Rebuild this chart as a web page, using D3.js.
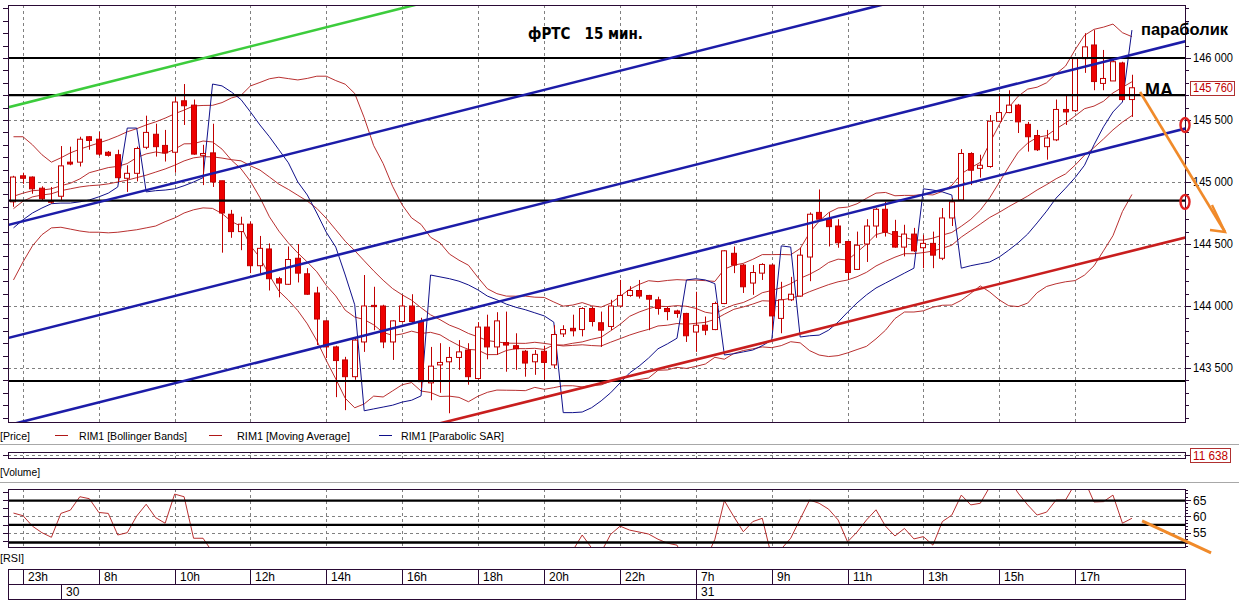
<!DOCTYPE html>
<html><head><meta charset="utf-8">
<script src="https://cdn.jsdelivr.net/npm/d3@7"></script>
<style>
body{margin:0;background:#fff;}
svg{display:block;font-family:"Liberation Sans",Arial,sans-serif;}
</style></head><body>
<svg id="c" width="1239" height="602"></svg>
<script>
// ---- data (RIM1, 15 min) ----
const openP  = [144840,145050,145040,144950,144845,144885,145160,145160,145365,145345,145240,145220,145030,145070,145280,145385,145295,145240,145655,145620,145215,145235,145010,144740,144600,144660,144325,144460,144220,144175,144385,144260,144105,143880,143670,143565,143430,143710,144005,144000,143710,143875,144000,143875,143380,143525,143550,143585,143645,143415,143830,143670,143705,143680,143635,143550,143635,143525,143775,143820,143810,143980,143865,143835,144000,144085,144125,144085,144050,143980,143960,143940,143790,143845,143810,144020,144425,144330,144185,144265,144330,143900,144050,144080,144395,144755,144700,144645,144520,144295,144500,144645,144780,144600,144475,144580,144470,144505,144385,144710,144855,145230,145110,145125,145490,145560,145620,145465,145375,145285,145340,145585,145575,145995,146105,145795,145815,145960,145665];
const highP  = [145050,145075,145045,144965,144960,145290,145285,145365,145370,145405,145250,145260,145135,145285,145535,145470,145420,145685,145790,145665,145300,145470,145010,144775,144720,144680,144565,144505,144235,144480,144500,144305,144155,143885,143680,143590,143740,144250,144155,144010,143885,144090,144095,143905,143670,143700,143670,143725,143700,143870,143930,143950,143955,143780,143645,143645,143680,143845,143845,143930,143990,143995,143955,144050,144210,144160,144210,144090,144075,143995,143970,143945,144115,143915,144035,144450,144480,144340,144330,144345,144340,144195,144235,144470,144755,144940,144755,144700,144525,144600,144700,144790,144840,144695,144655,144630,144575,144600,144790,144870,145265,145240,145220,145540,145715,145740,145630,145485,145420,145420,145665,145700,146000,146200,146225,146065,145985,145970,145865];
const lowP   = [144800,144985,144905,144855,144825,144855,145135,145125,145260,145210,145205,145000,144920,145005,145265,145205,145165,145075,145460,145220,144975,144960,144430,144550,144450,144265,144260,144125,144070,144170,144190,144090,143685,143580,143265,143160,143405,143630,143805,143660,143565,143865,143855,143340,143240,143300,143135,143485,143365,143410,143570,143605,143470,143485,143430,143445,143405,143500,143750,143755,143755,143835,143670,143805,143990,144075,144060,143805,143930,143885,143905,143710,143630,143765,143805,144015,144265,144105,144090,144210,143805,143780,144040,144075,144200,144695,144480,144470,144210,144290,144355,144550,144560,144470,144400,144435,144305,144305,144370,144645,144850,144975,145035,145115,145485,145555,145395,145245,145250,145180,145330,145460,145565,145880,145740,145740,145815,145655,145525];
const closeP = [145040,145030,144945,144865,144840,145130,145145,145345,145335,145225,145215,145035,145070,145270,145400,145285,145235,145645,145615,145225,145230,145000,144750,144600,144660,144325,144465,144220,144185,144375,144265,144095,143895,143670,143560,143430,143725,144000,143995,143710,143880,144000,143875,143390,143515,143545,143585,143630,143430,143830,143670,143880,143685,143655,143540,143610,143545,143770,143810,143800,143980,143875,143805,144000,144085,144125,144080,144055,143980,143955,143940,143760,143845,143805,144020,144445,144330,144155,144270,144335,143920,144050,144095,144410,144740,144700,144640,144510,144270,144490,144645,144780,144595,144475,144580,144445,144505,144410,144710,144840,145230,145095,145135,145490,145560,145620,145485,145365,145260,145355,145585,145565,145995,146090,145810,145835,145970,145665,145760];
const sarP   = [144630,144695,144750,144790,144825,144830,144830,144840,144855,144880,144910,144960,145435,145435,144920,144930,144935,144945,144970,145000,145035,145790,145775,145725,145665,145565,145460,145365,145260,145155,145000,144895,144750,144595,144475,144250,144010,143155,143170,143185,143200,143225,143240,143275,144250,144235,144220,144200,144170,144130,144080,144050,144015,143990,143970,143945,143920,143870,143140,143140,143145,143180,143235,143300,143380,143460,143515,143580,143655,143695,143740,144210,144220,144210,144180,143605,143615,143630,143645,143680,143725,144485,144475,143750,143760,143765,143805,143870,143950,144025,144090,144145,144185,144225,144265,144305,144945,144935,144920,144895,144305,144325,144340,144355,144395,144450,144510,144580,144670,144765,144870,144950,145035,145135,145300,145445,145565,145645,146225];
// band / MA values for the first candles (earlier history is off-screen)
const bbUpHead  = [145365,145365,145300,145220,145160,145195,145235,145265,145290,145315,145340,145370,145405,145430,145460,145485,145515,145550,145580];
const bbMidHead = [144785,144845,144880,144895,144905,144930,144945,144960,144970,144975,144985,145000,145015,145035,145055,145080,145105,145135,145170];
const bbLoHead  = [144210,144355,144485,144575,144630,144635,144620,144605,144595,144595,144590,144595,144605,144615,144630,144645,144680,144710,144750];
const maHead    = [144885,144910,144930,144935,144945,144970,144990,145025];
const rsiV   = [61.0,60.2,57.0,55.0,53.6,60.9,61.9,66.0,65.4,61.2,60.9,54.3,55.0,60.1,63.7,59.6,57.9,66.8,66.0,53.3,53.3,49.0,
  42,39,41,35,38,33,32,37,35,31,27,24,22,20,30,38,38,33,37,40,37,30,33,34,35,37,33,41,38,43,42,41,39,41,39,45,46,49.5,
  54.3,50.3,49.0,54.5,57.0,55.8,55.2,54.6,53.0,51.8,51.2,45.5,47.5,46.5,53.0,
  64.8,59.9,55.3,58.4,59.4,47.5,50.0,53.3,59.2,65.0,64.0,62.2,58.9,52.2,55.2,58.9,62.0,57.0,54.0,56.3,53.1,53.8,51.2,58.4,60.4,66.5,63.5,64.0,69.0,71.0,71.5,67.1,63.5,60.4,61.3,65.0,65.0,70.0,71.0,64.4,64.5,66.5,57.9,59.4];
const hourIdx = [1,9,17,25,33,41,49,56,64,72,80,88,96,104,112];
const hourLbl = ["23h","8h","10h","12h","14h","16h","18h","20h","22h","7h","9h","11h","13h","15h","17h"];
const dateIdx = [5,72];
const dateLbl = ["30","31"];
const priceTicks = [143500,144000,144500,145000,145500,146000];
const levelPrices = [146000,145700,144850,143395];
const rsiTicks = [55,60,65];
const rsiLevels = [64.8,57.4,52.0];
const lastPrice = 145760;
const lastVolume = "11 638";
// user trend lines: [index0, price0, index1, price1]
const greenLine = [-1,145593,50,146575];
const blueLines = [[-1,144645,130,147168],[-1,143734,125,146161],[-1,143030,125,145457]];
const redLine   = [44,143035,125,144578];
const arrowPrice = [118.86,145726,127.82,144597];
const arrowRsi   = [119.07,58.6,126.35,48.8];
const circlePrices = [145460,144840];

// ---- layout ----
const L=8, R=1185, PT=5, PB=422;
const x = d3.scaleLinear().domain([-0.58,123.6]).range([L,R]);
const y = d3.scaleLinear().domain([143000,146500]).range([430,-4]);
const RT=489, RB=547;
const yR = d3.scaleLinear().domain([50,70]).range([549.05,483.65]);
const idx = d3.range(openP.length);
const BORDER="#2a0a35", CANDLE="#c00000", BAND="#b01818";

const svg = d3.select("#c");
const defs = svg.append("defs");
defs.append("clipPath").attr("id","cp").append("rect").attr("x",L).attr("y",PT).attr("width",R-L).attr("height",PB-PT);
defs.append("clipPath").attr("id","cr").append("rect").attr("x",L).attr("y",RT).attr("width",R-L).attr("height",RB-RT);

// ---- price panel ----
const gP = svg.append("g").attr("clip-path","url(#cp)");
gP.selectAll("line.vg").data(hourIdx).join("line").attr("class","vg")
  .attr("x1",d=>Math.round(x(d))+0.5).attr("x2",d=>Math.round(x(d))+0.5).attr("y1",PT).attr("y2",PB)
  .attr("stroke","#808080").attr("stroke-dasharray","3,3");
gP.selectAll("line.hg").data(priceTicks).join("line").attr("class","hg")
  .attr("x1",L).attr("x2",R).attr("y1",d=>Math.round(y(d))+0.5).attr("y2",d=>Math.round(y(d))+0.5)
  .attr("stroke","#808080").attr("stroke-dasharray","3,3");

// bollinger (20,2) and moving average (9) from closes; head values
function win(i,n){return closeP.slice(i-n+1,i+1);}
const bbMid = idx.map(i=>i<19?bbMidHead[i]:d3.mean(win(i,20)));
const bbSd  = idx.map(i=>{if(i<19)return 0;const w=win(i,20),m=d3.mean(w);return Math.sqrt(d3.mean(w,v=>(v-m)*(v-m)));});
const bbUp = idx.map(i=>i<19?bbUpHead[i]:bbMid[i]+2*bbSd[i]);
const bbLo = idx.map(i=>i<19?bbLoHead[i]:bbMid[i]-2*bbSd[i]);
const ma = idx.map(i=>i<8?maHead[i]:d3.mean(win(i,9)));
const ln = arr => d3.line().x(i=>x(i)).y(i=>y(arr[i]))(idx);
[bbUp,bbMid,bbLo,ma].forEach(a=>gP.append("path").attr("d",ln(a)).attr("fill","none").attr("stroke",BAND).attr("stroke-width",0.9));
gP.append("path").attr("d",ln(sarP)).attr("fill","none").attr("stroke","#10108a").attr("stroke-width",1);

// candles
gP.selectAll("line.wick").data(idx).join("line").attr("class","wick")
  .attr("x1",i=>Math.round(x(i))+0.5).attr("x2",i=>Math.round(x(i))+0.5)
  .attr("y1",i=>y(highP[i])).attr("y2",i=>y(lowP[i])).attr("stroke",CANDLE);
gP.selectAll("rect.body").data(idx).join("rect").attr("class","body")
  .attr("x",i=>Math.round(x(i))-2.5).attr("width",5)
  .attr("y",i=>y(Math.max(openP[i],closeP[i])))
  .attr("height",i=>Math.max(1,Math.abs(y(openP[i])-y(closeP[i]))))
  .attr("fill",i=>closeP[i]>=openP[i]?"#fff":"#ee0000").attr("stroke",CANDLE);

// horizontal level lines
gP.selectAll("line.lv").data(levelPrices).join("line").attr("class","lv")
  .attr("x1",L).attr("x2",R).attr("y1",d=>y(d)).attr("y2",d=>y(d)).attr("stroke","#000").attr("stroke-width",2.2);
// trend lines
const tl = (g,a,c,w)=>g.append("line").attr("x1",x(a[0])).attr("y1",y(a[1])).attr("x2",x(a[2])).attr("y2",y(a[3])).attr("stroke",c).attr("stroke-width",w);
tl(gP,greenLine,"#3ccc3c",2.6);
blueLines.forEach(b=>tl(gP,b,"#1c1ca8",2.6));
tl(gP,redLine,"#c81e1e",2.6);

svg.append("rect").attr("x",L+0.5).attr("y",PT+0.5).attr("width",R-L).attr("height",PB-PT).attr("fill","none").attr("stroke",BORDER);

// price axis ticks & labels
const minor = d3.range(143100,146500,100);
svg.selectAll("line.rt").data(minor).join("line").attr("class","rt")
  .attr("x1",R).attr("x2",d=>d%500===0?R+6:R+4).attr("y1",d=>Math.round(y(d))+0.5).attr("y2",d=>Math.round(y(d))+0.5).attr("stroke",BORDER);
svg.selectAll("line.lt").data(minor).join("line").attr("class","lt")
  .attr("x1",3).attr("x2",L).attr("y1",d=>Math.round(y(d))+0.5).attr("y2",d=>Math.round(y(d))+0.5).attr("stroke",BORDER);
const fmt = d=>d3.format(",")(d).replace(",", " ");
svg.selectAll("text.pl").data(priceTicks).join("text").attr("class","pl")
  .attr("x",1193).attr("y",d=>y(d)+4).attr("font-size",12).attr("textLength",40).attr("lengthAdjust","spacingAndGlyphs").text(fmt);
svg.append("rect").attr("x",1190.5).attr("y",Math.round(y(lastPrice))-6.5).attr("width",44).attr("height",14).attr("fill","#fff").attr("stroke","#b03030");
svg.append("text").attr("x",1193).attr("y",y(lastPrice)+4).attr("font-size",12).attr("fill","#c00000").attr("textLength",40).attr("lengthAdjust","spacingAndGlyphs").text(fmt(lastPrice));

// ---- annotations ----
svg.append("text").attr("x",528).attr("y",39).attr("font-family","DejaVu Sans").attr("font-weight","bold").attr("font-size",15)
  .attr("textLength",115).attr("lengthAdjust","spacingAndGlyphs").style("white-space","pre").text("фРТС   15 мин.");
svg.append("text").attr("x",1141).attr("y",35).attr("font-weight","bold").attr("font-size",16).attr("textLength",87).attr("lengthAdjust","spacingAndGlyphs").text("параболик");
svg.append("text").attr("x",1145).attr("y",96).attr("font-weight","bold").attr("font-size",18).attr("textLength",28).attr("lengthAdjust","spacingAndGlyphs").text("MA");
svg.selectAll("ellipse.cm").data(circlePrices).join("ellipse").attr("class","cm")
  .attr("cx",R).attr("cy",d=>y(d)).attr("rx",4.5).attr("ry",7).attr("fill","none").attr("stroke","#e02020").attr("stroke-width",2.4);
const ax0=x(arrowPrice[0]), ay0=y(arrowPrice[1]), ax1=x(arrowPrice[2]), ay1=y(arrowPrice[3]);
svg.append("line").attr("x1",ax0).attr("y1",ay0).attr("x2",ax1).attr("y2",ay1).attr("stroke","#f08a2a").attr("stroke-width",2.6);
svg.append("path").attr("d",`M${ax1-13},${ay1-27}L${ax1},${ay1}L${ax1-15},${ay1-2}`).attr("fill","none").attr("stroke","#f08a2a").attr("stroke-width",2.4);

// ---- legend row ----
svg.append("text").attr("x",0).attr("y",440).attr("font-size",11).attr("textLength",30).attr("lengthAdjust","spacingAndGlyphs").text("[Price]");
const leg = [[55,79,108,"RIM1 [Bollinger Bands]",BAND],[209,237,113,"RIM1 [Moving Average]",BAND],[379,401,103,"RIM1 [Parabolic SAR]","#10108a"]];
leg.forEach(l=>{
  svg.append("line").attr("x1",l[0]).attr("x2",l[0]+13).attr("y1",435.5).attr("y2",435.5).attr("stroke",l[4]);
  svg.append("text").attr("x",l[1]).attr("y",440).attr("font-size",11).attr("textLength",l[2]).attr("lengthAdjust","spacingAndGlyphs").text(l[3]);
});
svg.append("line").attr("x1",0).attr("x2",1239).attr("y1",444.5).attr("y2",444.5).attr("stroke","#a8a8a8");
svg.append("line").attr("x1",0).attr("x2",1239).attr("y1",482.5).attr("y2",482.5).attr("stroke","#a8a8a8");

// ---- volume panel ----
svg.append("line").attr("x1",L).attr("x2",R).attr("y1",455.5).attr("y2",455.5).attr("stroke","#808080").attr("stroke-dasharray","3,3");
svg.selectAll("line.vv").data(hourIdx).join("line").attr("class","vv")
  .attr("x1",d=>Math.round(x(d))+0.5).attr("x2",d=>Math.round(x(d))+0.5).attr("y1",452).attr("y2",459).attr("stroke","#808080").attr("stroke-dasharray","2,2");
svg.append("rect").attr("x",L+0.5).attr("y",452.5).attr("width",R-L).attr("height",6).attr("fill","none").attr("stroke",BORDER);
svg.append("line").attr("x1",3).attr("x2",L).attr("y1",455.5).attr("y2",455.5).attr("stroke",BORDER);
svg.append("line").attr("x1",R).attr("x2",R+6).attr("y1",455.5).attr("y2",455.5).attr("stroke",BORDER);
svg.append("rect").attr("x",1190.5).attr("y",448.5).attr("width",40).attr("height",14).attr("fill","#fff").attr("stroke","#b03030");
svg.append("text").attr("x",1193).attr("y",460).attr("font-size",12).attr("fill","#c00000").attr("textLength",35).attr("lengthAdjust","spacingAndGlyphs").text(lastVolume);
svg.append("text").attr("x",0).attr("y",476).attr("font-size",11).attr("textLength",40).attr("lengthAdjust","spacingAndGlyphs").text("[Volume]");

// ---- RSI panel ----
const gR = svg.append("g").attr("clip-path","url(#cr)");
gR.selectAll("line.rv").data(hourIdx).join("line").attr("class","rv")
  .attr("x1",d=>Math.round(x(d))+0.5).attr("x2",d=>Math.round(x(d))+0.5).attr("y1",RT).attr("y2",RB)
  .attr("stroke","#808080").attr("stroke-dasharray","3,3");
gR.selectAll("line.rh").data(rsiTicks).join("line").attr("class","rh")
  .attr("x1",L).attr("x2",R).attr("y1",d=>Math.round(yR(d))+0.5).attr("y2",d=>Math.round(yR(d))+0.5)
  .attr("stroke","#808080").attr("stroke-dasharray","3,3");
gR.append("path").attr("d",d3.line().x(i=>x(i)).y(i=>yR(rsiV[i]))(idx)).attr("fill","none").attr("stroke",BAND).attr("stroke-width",0.9);
gR.selectAll("line.rl").data(rsiLevels).join("line").attr("class","rl")
  .attr("x1",L).attr("x2",R).attr("y1",d=>yR(d)).attr("y2",d=>yR(d)).attr("stroke","#000").attr("stroke-width",2.4);
svg.append("rect").attr("x",L+0.5).attr("y",RT+0.5).attr("width",R-L).attr("height",RB-RT).attr("fill","none").attr("stroke",BORDER);
svg.selectAll("line.rmt").data(d3.range(51,69)).join("line").attr("class","rmt")
  .attr("x1",R).attr("x2",d=>d%5===0?R+6:R+3).attr("y1",d=>Math.round(yR(d))+0.5).attr("y2",d=>Math.round(yR(d))+0.5).attr("stroke",BORDER);
svg.selectAll("line.rlt").data([52.5,55,57.5,60,62.5,65,67.5]).join("line").attr("class","rlt")
  .attr("x1",3).attr("x2",L).attr("y1",d=>Math.round(yR(d))+0.5).attr("y2",d=>Math.round(yR(d))+0.5).attr("stroke",BORDER);
svg.selectAll("text.rtl").data(rsiTicks).join("text").attr("class","rtl")
  .attr("x",1193).attr("y",d=>yR(d)+4.5).attr("font-size",12).text(d=>d);
svg.append("line").attr("x1",x(arrowRsi[0])).attr("y1",yR(arrowRsi[1])).attr("x2",x(arrowRsi[2])).attr("y2",yR(arrowRsi[3])).attr("stroke","#f08a2a").attr("stroke-width",3);
svg.append("text").attr("x",0).attr("y",562).attr("font-size",11).attr("textLength",24).attr("lengthAdjust","spacingAndGlyphs").text("[RSI]");

// ---- time axis ----
const TT=569, TM=584, TB=599;
svg.append("rect").attr("x",L+0.5).attr("y",TT+0.5).attr("width",R-L).attr("height",TB-TT).attr("fill","none").attr("stroke",BORDER);
svg.append("line").attr("x1",L).attr("x2",R).attr("y1",TM+0.5).attr("y2",TM+0.5).attr("stroke",BORDER);
svg.selectAll("line.td").data(hourIdx).join("line").attr("class","td")
  .attr("x1",d=>Math.round(x(d))+0.5).attr("x2",d=>Math.round(x(d))+0.5).attr("y1",TT).attr("y2",TM).attr("stroke",BORDER);
svg.selectAll("text.tl").data(hourIdx).join("text").attr("class","tl")
  .attr("x",d=>Math.round(x(d))+5).attr("y",TM-3).attr("font-size",12).text((d,k)=>hourLbl[k]);
svg.selectAll("line.dd").data(dateIdx).join("line").attr("class","dd")
  .attr("x1",d=>Math.round(x(d))+0.5).attr("x2",d=>Math.round(x(d))+0.5).attr("y1",TM).attr("y2",TB).attr("stroke",BORDER);
svg.selectAll("text.dl").data(dateIdx).join("text").attr("class","dl")
  .attr("x",d=>Math.round(x(d))+5).attr("y",TB-3).attr("font-size",12).text((d,k)=>dateLbl[k]);
</script>
</body></html>
